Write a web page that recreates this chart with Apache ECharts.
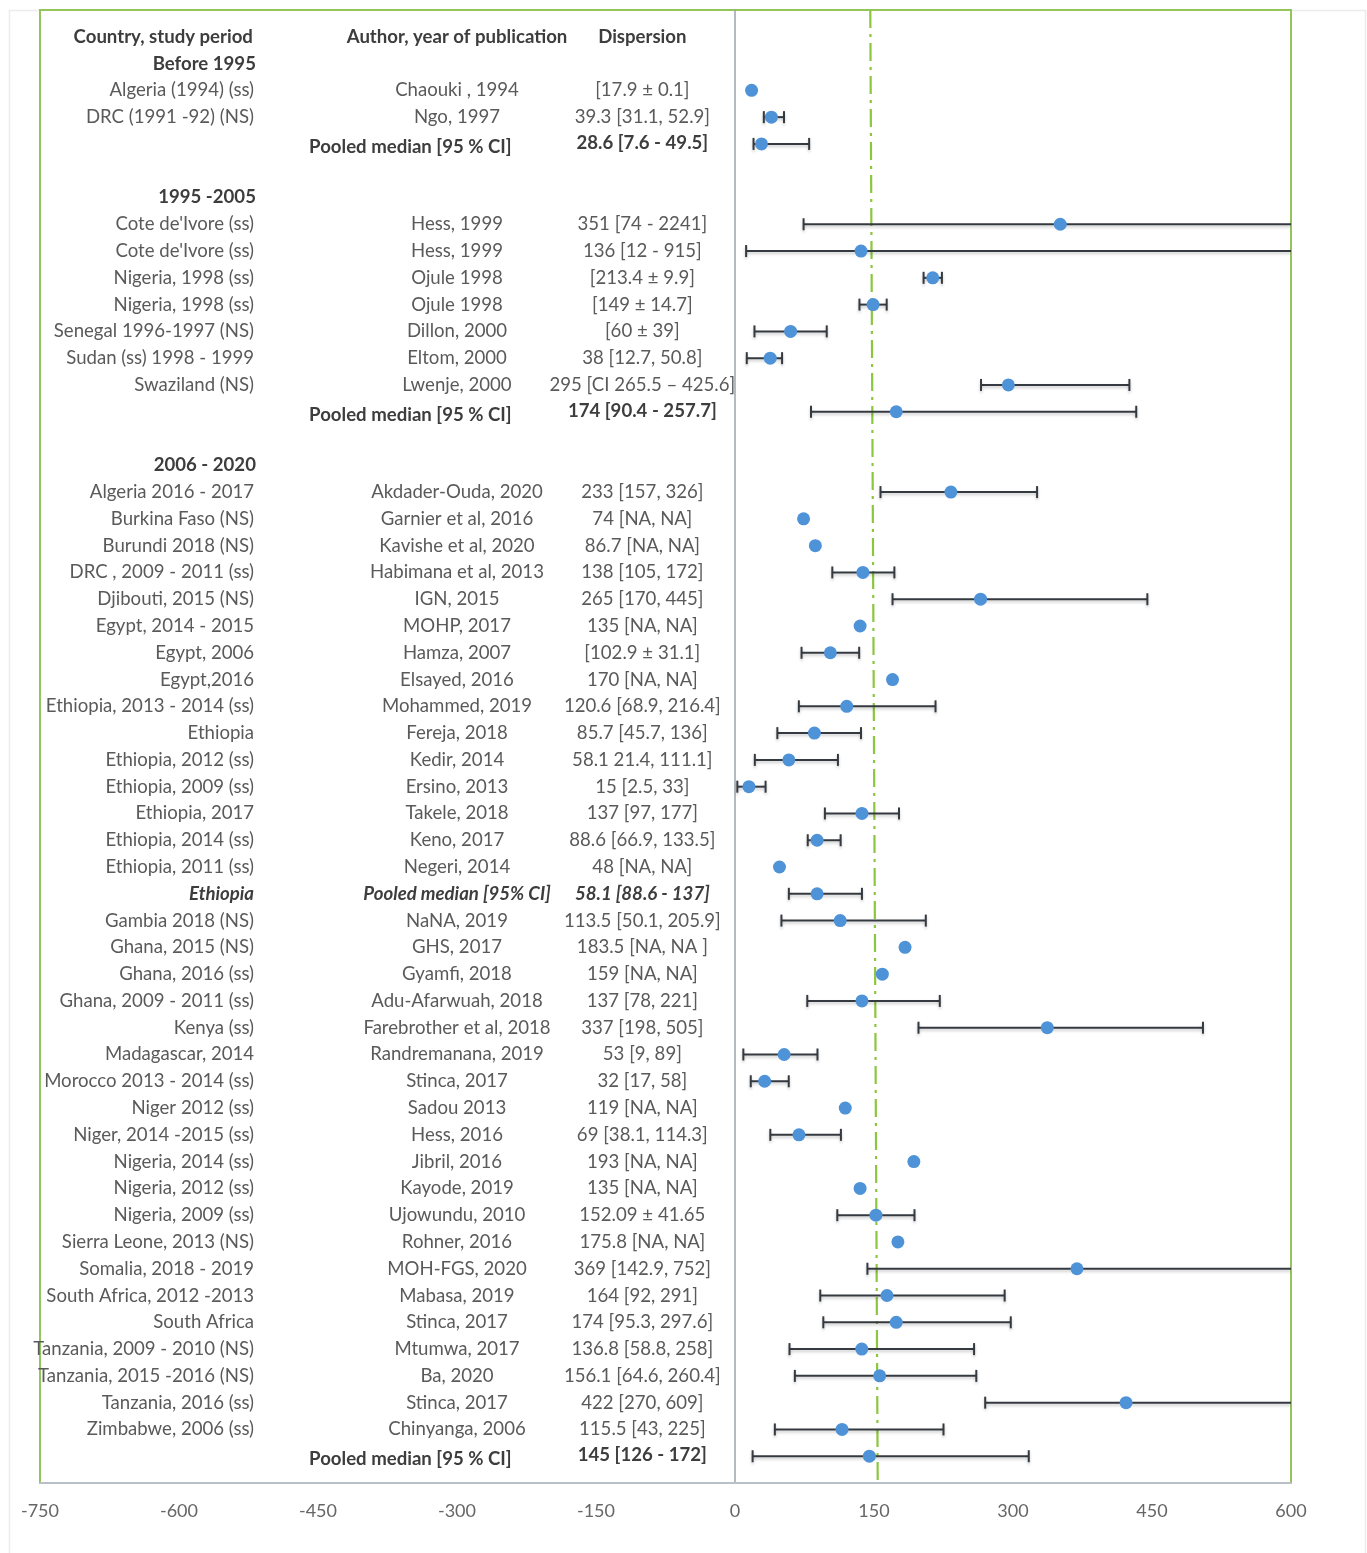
<!DOCTYPE html>
<html>
<head>
<meta charset="utf-8">
<title>Median urinary iodine concentration, Africa</title>
<script src="https://cdn.jsdelivr.net/npm/echarts@6/dist/echarts.min.js"></script>
<style>
  html, body { margin: 0; padding: 0; background: #ffffff; }
  #chart { width: 1367px; height: 1553px; }
</style>
</head>
<body>
<div id="chart"></div>
<script>
// Row kinds: head = column titles, group = period heading, study, pooled, subpooled (country pooled), blank
const rowKind = [
  'head', 'group', 'study', 'study', 'pooled', 'blank',
  'group', 'study', 'study', 'study', 'study', 'study', 'study', 'study', 'pooled', 'blank',
  'group', 'study', 'study', 'study', 'study', 'study', 'study', 'study', 'study',
  'study', 'study', 'study', 'study', 'study', 'study', 'study', 'subpooled',
  'study', 'study', 'study', 'study', 'study', 'study', 'study', 'study', 'study',
  'study', 'study', 'study', 'study', 'study', 'study', 'study', 'study', 'study', 'study', 'study', 'pooled'
];

const countries = [
  'Country, study period', 'Before 1995', 'Algeria (1994) (ss)', 'DRC (1991 -92) (NS)', '', '',
  '1995 -2005', "Cote de'Ivore (ss)", "Cote de'Ivore (ss)", 'Nigeria, 1998 (ss)', 'Nigeria, 1998 (ss)',
  'Senegal 1996-1997 (NS)', 'Sudan (ss) 1998 - 1999', 'Swaziland (NS)', '', '',
  '2006 - 2020', 'Algeria 2016 - 2017', 'Burkina Faso (NS)', 'Burundi 2018 (NS)', 'DRC , 2009 - 2011 (ss)',
  'Djibouti, 2015 (NS)', 'Egypt, 2014 - 2015', 'Egypt, 2006', 'Egypt,2016',
  'Ethiopia, 2013 - 2014 (ss)', 'Ethiopia', 'Ethiopia, 2012 (ss)', 'Ethiopia, 2009 (ss)', 'Ethiopia, 2017',
  'Ethiopia, 2014 (ss)', 'Ethiopia, 2011 (ss)', 'Ethiopia',
  'Gambia 2018 (NS)', 'Ghana, 2015 (NS)', 'Ghana, 2016 (ss)', 'Ghana, 2009 - 2011 (ss)', 'Kenya (ss)',
  'Madagascar, 2014', 'Morocco 2013 - 2014 (ss)', 'Niger 2012 (ss)', 'Niger, 2014 -2015 (ss)',
  'Nigeria, 2014 (ss)', 'Nigeria, 2012 (ss)', 'Nigeria, 2009 (ss)', 'Sierra Leone, 2013 (NS)',
  'Somalia, 2018 - 2019', 'South Africa, 2012 -2013', 'South Africa', 'Tanzania, 2009 - 2010 (NS)',
  'Tanzania, 2015 -2016 (NS)', 'Tanzania, 2016 (ss)', 'Zimbabwe, 2006 (ss)', ''
];

const authors = [
  'Author, year of publication', '', 'Chaouki , 1994', 'Ngo, 1997', 'Pooled median [95 % CI]', '',
  '', 'Hess, 1999', 'Hess, 1999', 'Ojule 1998', 'Ojule 1998', 'Dillon, 2000', 'Eltom, 2000', 'Lwenje, 2000',
  'Pooled median [95 % CI]', '',
  '', 'Akdader-Ouda, 2020', 'Garnier et al, 2016', 'Kavishe et al, 2020', 'Habimana et al, 2013',
  'IGN, 2015', 'MOHP, 2017', 'Hamza, 2007', 'Elsayed, 2016',
  'Mohammed, 2019', 'Fereja, 2018', 'Kedir, 2014', 'Ersino, 2013', 'Takele, 2018', 'Keno, 2017',
  'Negeri, 2014', 'Pooled median [95% CI]',
  'NaNA, 2019', 'GHS, 2017', 'Gyamfi, 2018', 'Adu-Afarwuah, 2018', 'Farebrother et al, 2018',
  'Randremanana, 2019', 'Stinca, 2017', 'Sadou 2013', 'Hess, 2016', 'Jibril, 2016', 'Kayode, 2019',
  'Ujowundu, 2010', 'Rohner, 2016', 'MOH-FGS, 2020', 'Mabasa, 2019', 'Stinca, 2017', 'Mtumwa, 2017',
  'Ba, 2020', 'Stinca, 2017', 'Chinyanga, 2006', 'Pooled median [95 % CI]'
];

const dispersion = [
  'Dispersion', '', '[17.9 ± 0.1]', '39.3 [31.1, 52.9]', '28.6 [7.6 - 49.5]', '',
  '', '351 [74 - 2241]', '136 [12 - 915]', '[213.4 ± 9.9]', '[149 ± 14.7]', '[60 ± 39]',
  '38 [12.7, 50.8]', '295 [CI 265.5 – 425.6]', '174 [90.4 - 257.7]', '',
  '', '233 [157, 326]', '74 [NA, NA]', '86.7 [NA, NA]', '138 [105, 172]', '265 [170, 445]',
  '135 [NA, NA]', '[102.9 ± 31.1]', '170 [NA, NA]',
  '120.6 [68.9, 216.4]', '85.7 [45.7, 136]', '58.1 21.4, 111.1]', '15 [2.5, 33]', '137 [97, 177]',
  '88.6 [66.9, 133.5]', '48 [NA, NA]', '58.1 [88.6 - 137]',
  '113.5 [50.1, 205.9]', '183.5 [NA, NA ]', '159 [NA, NA]', '137 [78, 221]', '337 [198, 505]',
  '53 [9, 89]', '32 [17, 58]', '119 [NA, NA]', '69 [38.1, 114.3]', '193 [NA, NA]', '135 [NA, NA]',
  '152.09 ± 41.65', '175.8 [NA, NA]', '369 [142.9, 752]', '164 [92, 291]', '174 [95.3, 297.6]',
  '136.8 [58.8, 258]', '156.1 [64.6, 260.4]', '422 [270, 609]', '115.5 [43, 225]', '145 [126 - 172]'
];

// Plotted median and interval per row (null = nothing drawn)
const median = [
  null, null, 17.9, 39.3, 28.6, null,
  null, 351, 136, 213.4, 149, 60, 38, 295, 174, null,
  null, 233, 74, 86.7, 138, 265, 135, 102.9, 170,
  120.6, 85.7, 58.1, 15, 137, 88.6, 48, 88.6,
  113.5, 183.5, 159, 137, 337, 53, 32, 119, 69, 193, 135, 152.09, 175.8,
  369, 164, 174, 136.8, 156.1, 422, 115.5, 145
];
const lower = [
  null, null, null, 31.1, 20, null,
  null, 74, 12, 203.5, 134.3, 21, 12.7, 265.5, 82, null,
  null, 157, null, null, 105, 170, null, 71.8, null,
  68.9, 45.7, 21.4, 2.5, 97, 78.5, null, 58.1,
  50.1, null, null, 78, 198, 9, 17, null, 38.1, null, null, 110.4, null,
  142.9, 92, 95.3, 58.8, 64.6, 270, 43, 19
];
const upper = [
  null, null, null, 52.9, 80, null,
  null, 2241, 915, 223.3, 163.7, 99, 50.8, 425.6, 433, null,
  null, 326, null, null, 172, 445, null, 134, null,
  216.4, 136, 111.1, 33, 177, 114, null, 137,
  205.9, null, null, 221, 505, 89, 58, null, 114.3, null, null, 193.7, null,
  752, 291, 297.6, 258, 260.4, 609, 225, 317
];

// Overall reference line (dash-dot)
const refLine = [[146, -1], [154, 54]];

const xTicks = [-750, -600, -450, -300, -150, 0, 150, 300, 450, 600];

const X_MIN = xTicks[0];
const X_MAX = xTicks[xTicks.length - 1];
const FONT = 'Lato, "Open Sans", sans-serif';
const FONT_SIZE = 18.6;
const TEXT_GREY = '#5a5a5a';
const TEXT_DARK = '#3d3d3d';

const rowIdx = rowKind.map((_, i) => i);

const pointData = [];
const barData = [];
median.forEach((m, i) => {
  if (m !== null) pointData.push([m, i]);
  if (lower[i] !== null && upper[i] !== null) barData.push([lower[i], upper[i], i]);
});

function textEl(x, y, str, align, weight, style, color) {
  return {
    type: 'text',
    x: x, y: y,
    style: {
      text: str,
      font: (style || 'normal') + ' ' + (weight || 'normal') + ' ' + FONT_SIZE + 'px ' + FONT,
      fill: color,
      align: align,
      verticalAlign: 'middle'
    }
  };
}

function renderTable(params, api) {
  const i = params.dataIndex;
  const kind = rowKind[i];
  const children = [];
  const y = api.coord([0, i])[1];
  const cx = v => api.coord([v, i])[0];
  if (kind === 'head') {
    children.push(textEl(cx(-617), y, countries[i], 'center', 'bold', 'normal', TEXT_DARK));
    children.push(textEl(cx(-300), y, authors[i], 'center', 'bold', 'normal', TEXT_DARK));
    children.push(textEl(cx(-100), y, dispersion[i], 'center', 'bold', 'normal', TEXT_DARK));
  } else if (kind === 'group') {
    children.push(textEl(cx(-517), y, countries[i], 'right', 'bold', 'normal', TEXT_DARK));
  } else if (kind === 'study') {
    children.push(textEl(cx(-519), y, countries[i], 'right', 'normal', 'normal', TEXT_GREY));
    children.push(textEl(cx(-300), y, authors[i], 'center', 'normal', 'normal', TEXT_GREY));
    children.push(textEl(cx(-100), y, dispersion[i], 'center', 'normal', 'normal', TEXT_GREY));
  } else if (kind === 'pooled') {
    children.push(textEl(cx(-241), y + 3, authors[i], 'right', 'bold', 'normal', TEXT_DARK));
    children.push(textEl(cx(-100), y - 1, dispersion[i], 'center', 'bold', 'normal', TEXT_DARK));
  } else if (kind === 'subpooled') {
    children.push(textEl(cx(-519), y, countries[i], 'right', 'bold', 'italic', TEXT_DARK));
    children.push(textEl(cx(-300), y, authors[i], 'center', 'bold', 'italic', TEXT_DARK));
    children.push(textEl(cx(-100), y, dispersion[i], 'center', 'bold', 'italic', TEXT_DARK));
  }
  return { type: 'group', children: children };
}

function renderBar(params, api) {
  const lo = api.value(0);
  const hi = api.value(1);
  const row = api.value(2);
  const loC = Math.max(lo, X_MIN);
  const hiC = Math.min(hi, X_MAX);
  const p1 = api.coord([loC, row]);
  const p2 = api.coord([hiC, row]);
  const cap = 6;
  const stroke = { stroke: '#353a40', lineWidth: 2, shadowBlur: 3, shadowOffsetY: 2, shadowColor: 'rgba(0,0,0,0.22)' };
  const children = [
    { type: 'line', shape: { x1: p1[0], y1: p1[1], x2: p2[0], y2: p2[1] }, style: stroke }
  ];
  if (lo >= X_MIN) children.push({ type: 'line', shape: { x1: p1[0], y1: p1[1] - cap, x2: p1[0], y2: p1[1] + cap }, style: stroke });
  if (hi <= X_MAX) children.push({ type: 'line', shape: { x1: p2[0], y1: p2[1] - cap, x2: p2[0], y2: p2[1] + cap }, style: stroke });
  return { type: 'group', children: children };
}

const chart = echarts.init(document.getElementById('chart'), null, { renderer: 'canvas' });
chart.setOption({
  animation: false,
  backgroundColor: '#ffffff',
  graphic: [{
    type: 'rect', left: 7, top: 8, z: -10,
    shape: { width: 1356, height: 1560 },
    style: { fill: 'none', stroke: '#ececec', lineWidth: 1.5 }
  }],
  grid: {
    left: 40, right: 76, top: 10, bottom: 70,
    show: true, borderColor: '#93c55a', borderWidth: 2, backgroundColor: '#ffffff'
  },
  xAxis: {
    type: 'value', min: X_MIN, max: X_MAX, interval: 150,
    axisLine: { show: true, onZero: false, lineStyle: { color: '#b9c0c6', width: 2 } },
    axisTick: { show: false },
    splitLine: { show: false },
    axisLabel: { color: '#666666', fontSize: 18, fontFamily: FONT, margin: 19 }
  },
  yAxis: {
    type: 'value', min: -1, max: 54, inverse: true,
    axisLine: { show: true, onZero: true, lineStyle: { color: '#9aa4ad', width: 1.5 } },
    axisTick: { show: false },
    axisLabel: { show: false },
    splitLine: { show: false }
  },
  series: [
    {
      type: 'line', data: refLine, symbol: 'none', z: 2, silent: true,
      lineStyle: { color: '#8cc63f', width: 2.2, type: [18, 6, 3, 6] }
    },
    {
      type: 'custom', renderItem: renderBar, data: barData, z: 3, clip: true,
      encode: { x: [0, 1], y: 2 }
    },
    {
      type: 'scatter', data: pointData, symbol: 'circle', symbolSize: 13, z: 4,
      itemStyle: { color: '#4e92d8', opacity: 1 }
    },
    {
      type: 'custom', renderItem: renderTable, data: rowIdx.map(i => [0, i]), z: 5, silent: true,
      encode: { x: 0, y: 1 }
    }
  ]
});
</script>
</body>
</html>
